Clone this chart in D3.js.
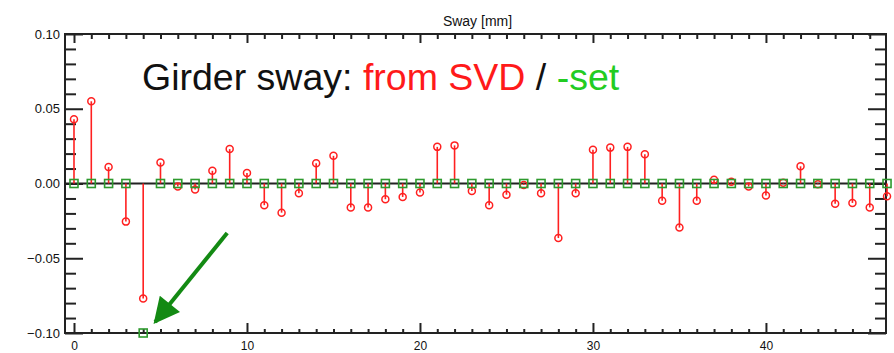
<!DOCTYPE html>
<html>
<head>
<meta charset="utf-8">
<script src="https://cdn.jsdelivr.net/npm/d3@7"></script>
<style>
  body { margin: 0; background: #fff; }
  svg { display: block; }
</style>
</head>
<body>
<svg id="chart" width="894" height="353"></svg>
<script>
// girder sway from SVD (red stems)
const svdValues = [0.043, 0.055, 0.011, -0.0255, -0.077, 0.014, -0.002, -0.004, 0.0085, 0.023,
  0.007, -0.0145, -0.0195, -0.0065, 0.0135, 0.0185, -0.016, -0.016, -0.0105, -0.009,
  -0.006, 0.0245, 0.0255, -0.005, -0.0145, -0.0075, -0.001, -0.0065, -0.0365, -0.0065,
  0.0225, 0.024, 0.0245, 0.0195, -0.0115, -0.0295, -0.0115, 0.0025, 0.0012, -0.002,
  -0.008, 0.0005, 0.0115, -0.0005, -0.0135, -0.013, -0.016, -0.0085];
// girder sway set (green squares)
const setValues = [0, 0, 0, 0, -0.1, 0, 0, 0, 0, 0,
  0, 0, 0, 0, 0, 0, 0, 0, 0, 0,
  0, 0, 0, 0, 0, 0, 0, 0, 0, 0,
  0, 0, 0, 0, 0, 0, 0, 0, 0, 0,
  0, 0, 0, 0, 0, 0, 0, 0];
const xTicks = [0, 10, 20, 30, 40];
const xTickLabels = ['0', '10', '20', '30', '40'];
const yTicks = [-0.1, -0.05, 0, 0.05, 0.1];
const yTickLabels = ['\u22120.10', '\u22120.05', '0.00', '0.05', '0.10'];
const chartTitle = 'Sway [mm]';
const annotationParts = [
  { text: 'Girder sway: ', color: '#111' },
  { text: 'from SVD', color: '#ff1a1a' },
  { text: ' / ', color: '#111' },
  { text: '-set', color: '#22cc22' }
];

const width = 894, height = 353;
const margin = { top: 34, right: 8, bottom: 20, left: 65 };
const innerW = width - margin.left - margin.right;
const innerH = height - margin.top - margin.bottom;
const axisColor = '#222';

const svg = d3.select('#chart');
const g = svg.append('g').attr('transform', `translate(${margin.left},${margin.top})`);

const xScale = d3.scaleLinear().domain([-0.52, 46.94]).range([0, innerW]);
const yScale = d3.scaleLinear().domain([-0.1, 0.1]).range([innerH, 0]);

const xMinor = d3.range(0, 47).filter(d => d % 10 !== 0);
const yMinor = d3.range(-10, 11).filter(d => d % 5 !== 0).map(d => d / 100);

function styleAxis(sel, size = 13) {
  sel.select('.domain').remove();
  sel.selectAll('.tick line').attr('stroke', axisColor).attr('stroke-width', 2);
  sel.selectAll('.tick text')
    .attr('fill', '#111')
    .attr('font-family', 'Liberation Sans, Arial, sans-serif')
    .attr('font-size', size);
}

// left axis
g.append('g').call(d3.axisLeft(yScale).tickValues(yTicks).tickSize(-18).tickPadding(5)
  .tickFormat((d, i) => yTickLabels[i])).call(styleAxis);
g.append('g').call(d3.axisLeft(yScale).tickValues(yMinor).tickSize(-11).tickFormat('')).call(styleAxis);
// right axis
g.append('g').attr('transform', `translate(${innerW},0)`)
  .call(d3.axisRight(yScale).tickValues(yTicks).tickSize(-18).tickFormat('')).call(styleAxis);
g.append('g').attr('transform', `translate(${innerW},0)`)
  .call(d3.axisRight(yScale).tickValues(yMinor).tickSize(-11).tickFormat('')).call(styleAxis);
// bottom axis
g.append('g').attr('transform', `translate(0,${innerH})`)
  .call(d3.axisBottom(xScale).tickValues(xTicks).tickSize(-10).tickPadding(8)
    .tickFormat((d, i) => xTickLabels[i])).call(styleAxis, 12);
g.append('g').attr('transform', `translate(0,${innerH})`)
  .call(d3.axisBottom(xScale).tickValues(xMinor).tickSize(-4).tickFormat('')).call(styleAxis);
// top axis
g.append('g').call(d3.axisTop(xScale).tickValues(xTicks).tickSize(-9).tickFormat('')).call(styleAxis);
g.append('g').call(d3.axisTop(xScale).tickValues(xMinor).tickSize(-5).tickFormat('')).call(styleAxis);

// frame
g.append('rect')
  .attr('x', 0).attr('y', 0).attr('width', innerW).attr('height', innerH)
  .attr('fill', 'none').attr('stroke', axisColor).attr('stroke-width', 2);

// zero line
g.append('line')
  .attr('x1', 0).attr('x2', innerW)
  .attr('y1', yScale(0)).attr('y2', yScale(0))
  .attr('stroke', '#222').attr('stroke-width', 2);

// red stems
g.append('g').selectAll('line')
  .data(svdValues)
  .enter()
  .append('line')
  .attr('x1', (d, i) => xScale(i)).attr('x2', (d, i) => xScale(i))
  .attr('y1', yScale(0)).attr('y2', d => yScale(d))
  .attr('stroke', '#ff2020').attr('stroke-width', 1.6);

g.append('g').selectAll('circle')
  .data(svdValues)
  .enter()
  .append('circle')
  .attr('cx', (d, i) => xScale(i)).attr('cy', d => yScale(d))
  .attr('r', 3.5)
  .attr('fill', 'none').attr('stroke', '#ff2020').attr('stroke-width', 1.5);

// green squares
const sq = 8;
g.append('g').selectAll('rect')
  .data(setValues)
  .enter()
  .append('rect')
  .attr('x', (d, i) => xScale(i) - sq / 2).attr('y', d => yScale(d) - sq / 2)
  .attr('width', sq).attr('height', sq)
  .attr('fill', 'none').attr('stroke', '#2e9a2e').attr('stroke-width', 1.6);

// title
svg.append('text')
  .attr('x', margin.left + innerW / 2 + 2).attr('y', 26)
  .attr('text-anchor', 'middle')
  .attr('font-family', 'Liberation Sans, Arial, sans-serif')
  .attr('font-size', 14)
  .attr('fill', '#111')
  .text(chartTitle);

// annotation
const note = svg.append('text')
  .attr('x', 142).attr('y', 90)
  .attr('font-family', 'Liberation Sans, Arial, sans-serif')
  .attr('font-size', 37.5);
note.selectAll('tspan')
  .data(annotationParts)
  .enter()
  .append('tspan')
  .attr('fill', d => d.color)
  .attr('xml:space', 'preserve')
  .style('white-space', 'pre')
  .text(d => d.text);

// arrow pointing at the moved girder (index 4)
const defs = svg.append('defs');
defs.append('marker')
  .attr('id', 'arrowHead')
  .attr('viewBox', '0 0 10 10')
  .attr('refX', 9).attr('refY', 5)
  .attr('markerWidth', 7).attr('markerHeight', 6.5)
  .attr('markerUnits', 'strokeWidth')
  .attr('orient', 'auto')
  .append('path')
  .attr('d', 'M0,0 L10,5 L0,10 Z')
  .attr('fill', '#138a13');

const arrowTip = [xScale(4) + 12, yScale(-0.1) - 11];
const arrowTail = [xScale(4) + 84, yScale(-0.1) - 100];
g.append('line')
  .attr('x1', arrowTail[0]).attr('y1', arrowTail[1])
  .attr('x2', arrowTip[0]).attr('y2', arrowTip[1])
  .attr('stroke', '#138a13').attr('stroke-width', 4)
  .attr('marker-end', 'url(#arrowHead)');
</script>
</body>
</html>
